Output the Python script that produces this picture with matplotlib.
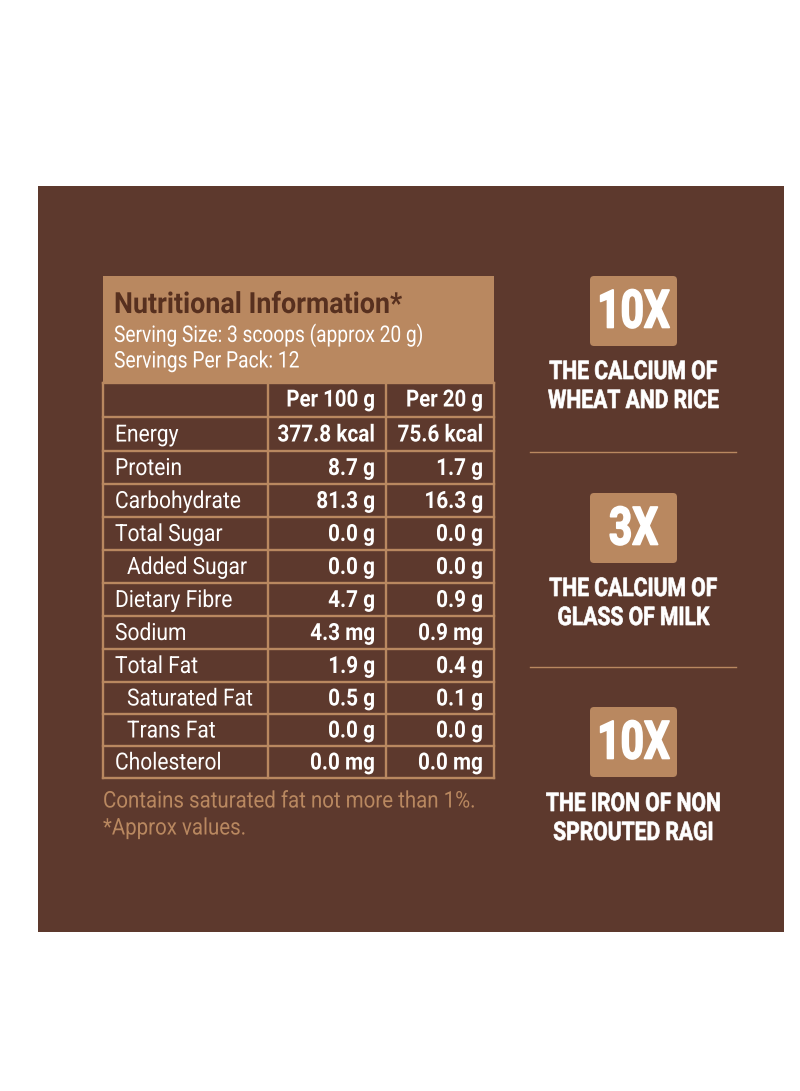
import matplotlib
matplotlib.use('Agg')
import matplotlib.pyplot as plt
from matplotlib.patches import Rectangle, FancyBboxPatch
from matplotlib.transforms import Affine2D
import matplotlib.patheffects as pe

BROWN = '#5d392d'
TAN = '#b98860'
DARK = '#57301f'

nutrients = ['Energy', 'Protein', 'Carbohydrate', 'Total Sugar', 'Added Sugar', 'Dietary Fibre',
             'Sodium', 'Total Fat', 'Saturated Fat', 'Trans Fat', 'Cholesterol']
indented = ['Added Sugar', 'Saturated Fat', 'Trans Fat']
per_100g = ['377.8 kcal', '8.7 g', '81.3 g', '0.0 g', '0.0 g', '4.7 g', '4.3 mg', '1.9 g', '0.5 g', '0.0 g', '0.0 mg']
per_20g = ['75.6 kcal', '1.7 g', '16.3 g', '0.0 g', '0.0 g', '0.9 g', '0.9 mg', '0.4 g', '0.1 g', '0.0 g', '0.0 mg']
row_lines = [383, 417, 451, 484, 517, 550, 583, 616, 649, 682, 714, 746, 778]
col_lines = [103, 268, 386, 494]

badges = ['10X', '3X', '10X']
badge_tops = [276, 493, 707]
captions = [['THE CALCIUM OF', 'WHEAT AND RICE'], ['THE CALCIUM OF', 'GLASS OF MILK'], ['THE IRON OF NON', 'SPROUTED RAGI']]
caption_ys = [[372, 401], [589, 618], [804, 833]]
divider_ys = [452, 667]


class Squeeze(pe.AbstractPathEffect):
    # no condensed font installed, so narrow the glyphs around the anchor x
    def __init__(self, x0, sx, stroke=0):
        super().__init__()
        self.x0, self.sx, self.stroke = x0, sx, stroke

    def draw_path(self, renderer, gc, tpath, affine, rgbFace):
        aff = affine + Affine2D().translate(-self.x0, 0).scale(self.sx, 1).translate(self.x0, 0)
        if self.stroke:
            gc0 = renderer.new_gc()
            gc0.copy_properties(gc)
            gc0.set_linewidth(self.stroke)
            gc0.set_foreground('white')
            renderer.draw_path(gc0, tpath, aff, rgbFace)
            gc0.restore()
        else:
            renderer.draw_path(gc, tpath, aff, rgbFace)


fig = plt.figure(figsize=(8, 10.91), dpi=100, facecolor='white')
ax = fig.add_axes([0, 0, 1, 1])
ax.set_xlim(0, 800)
ax.set_ylim(1091, 0)
ax.axis('off')


def label(x, y, s, size, sx, color='white', weight='normal', ha='left', stroke=0):
    ax.text(x, y, s, family='Roboto', fontsize=size, fontweight=weight, color=color, ha=ha, va='center',
            path_effects=[Squeeze(x, sx, stroke)])


ax.add_patch(Rectangle((38, 186), 746, 746, color=BROWN, lw=0))

# header block
ax.add_patch(Rectangle((103, 276), 391, 106, color=TAN, lw=0))
label(114, 305, 'Nutritional Information*', 21, 0.92, color=DARK, weight='bold')
label(114, 335, 'Serving Size: 3 scoops (approx 20 g)', 16.5, 0.835)
label(114, 361, 'Servings Per Pack: 12', 16.5, 0.84)

# table grid
for y in row_lines:
    ax.plot([col_lines[0], col_lines[-1]], [y, y], color=TAN, lw=1.7, solid_capstyle='projecting')
for x in col_lines:
    ax.plot([x, x], [row_lines[0], row_lines[-1]], color=TAN, lw=1.7, solid_capstyle='projecting')

label(375, 400, 'Per 100 g', 17, 0.865, weight='bold', ha='right')
label(483, 400, 'Per 20 g', 17, 0.865, weight='bold', ha='right')

for i, name in enumerate(nutrients):
    yc = (row_lines[i + 1] + row_lines[i + 2]) / 2 + 1
    x0 = 127 if name in indented else 115
    label(x0, yc, name, 17, 0.89)
    label(375, yc, per_100g[i], 17, 0.88, weight='bold', ha='right')
    label(483, yc, per_20g[i], 17, 0.88, weight='bold', ha='right')

label(103, 801, 'Contains saturated fat not more than 1%.', 16.5, 0.893, color=TAN)
label(103, 828, '*Approx values.', 16.5, 0.893, color=TAN)

# right column
for top, text, cap, cap_y in zip(badge_tops, badges, captions, caption_ys):
    ax.add_patch(FancyBboxPatch((592, top + 2), 83, 66, boxstyle='round,pad=2,rounding_size=4', color=TAN, lw=0))
    label(633.5, top + 37, text, 38, 0.77, weight='bold', ha='center', stroke=1.2)
    for line, y in zip(cap, cap_y):
        label(633.5, y, line, 18.5, 0.82, weight='bold', ha='center', stroke=0.5)

for y in divider_ys:
    ax.plot([530, 736], [y, y], color=TAN, lw=1)

fig.savefig('out.png', dpi=100, facecolor='white')
